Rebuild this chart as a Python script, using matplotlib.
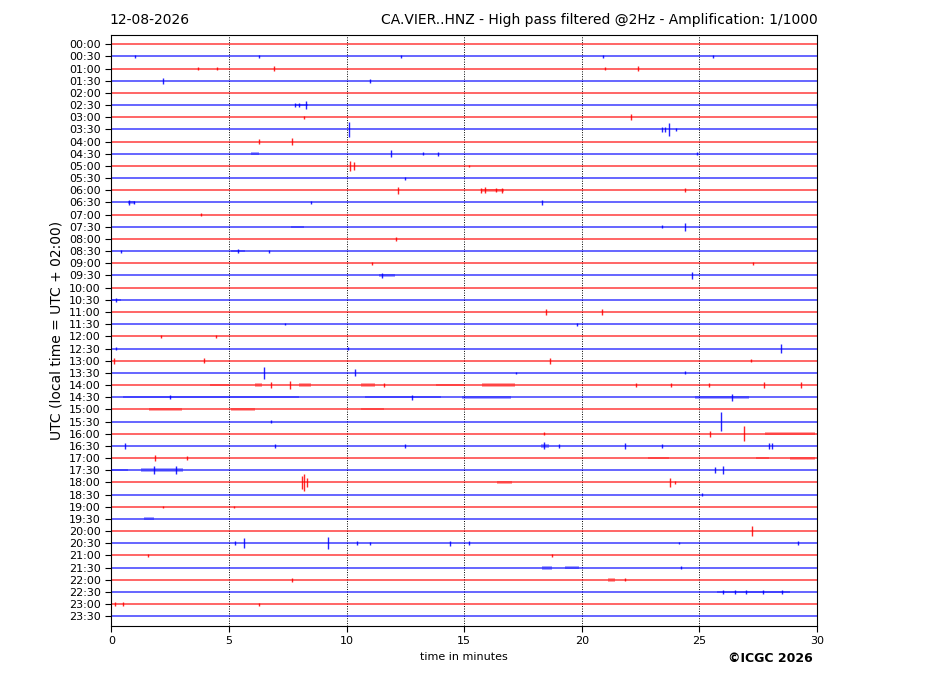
import matplotlib
matplotlib.use("Agg")
import matplotlib.pyplot as plt

# ---------------- data ----------------
ROW_LABELS = ["00:00", "00:30", "01:00", "01:30", "02:00", "02:30", "03:00", "03:30",
              "04:00", "04:30", "05:00", "05:30", "06:00", "06:30", "07:00", "07:30",
              "08:00", "08:30", "09:00", "09:30", "10:00", "10:30", "11:00", "11:30",
              "12:00", "12:30", "13:00", "13:30", "14:00", "14:30", "15:00", "15:30",
              "16:00", "16:30", "17:00", "17:30", "18:00", "18:30", "19:00", "19:30",
              "20:00", "20:30", "21:00", "21:30", "22:00", "22:30", "23:00", "23:30"]
ROW_COLORS = ["red", "blue"] * 24
X_TICKS = [0, 5, 10, 15, 20, 25, 30]

# isolated spikes: (row label, minute, half amplitude in trace-spacing units)
SPIKES = [
    ("00:30", 1.0, 0.15), ("00:30", 6.3, 0.12), ("00:30", 12.3, 0.1), ("00:30", 20.9, 0.12), ("00:30", 25.6, 0.1),
    ("01:00", 3.7, 0.12), ("01:00", 4.5, 0.12), ("01:00", 6.9, 0.2), ("01:00", 21.0, 0.15), ("01:00", 22.4, 0.18),
    ("01:30", 2.2, 0.25), ("01:30", 11.0, 0.15),
    ("02:30", 7.8, 0.18), ("02:30", 8.0, 0.18), ("02:30", 8.28, 0.35), ("02:30", 30.0, 0.25),
    ("03:00", 8.2, 0.12), ("03:00", 22.1, 0.25),
    ("03:30", 10.1, 0.65), ("03:30", 23.4, 0.2), ("03:30", 23.55, 0.2), ("03:30", 23.7, 0.5), ("03:30", 24.0, 0.15),
    ("04:00", 6.3, 0.18), ("04:00", 7.7, 0.28),
    ("04:30", 11.9, 0.28), ("04:30", 13.25, 0.12), ("04:30", 13.9, 0.15), ("04:30", 24.9, 0.12),
    ("05:00", 10.15, 0.4), ("05:00", 10.3, 0.35), ("05:00", 15.2, 0.1),
    ("05:30", 12.5, 0.12),
    ("06:00", 12.2, 0.28), ("06:00", 15.7, 0.22), ("06:00", 15.9, 0.25), ("06:00", 16.35, 0.18), ("06:00", 16.6, 0.2), ("06:00", 24.4, 0.15),
    ("06:30", 0.75, 0.2), ("06:30", 0.95, 0.15), ("06:30", 8.5, 0.12), ("06:30", 18.3, 0.18),
    ("07:00", 3.8, 0.12),
    ("07:30", 23.4, 0.12), ("07:30", 24.4, 0.35),
    ("08:00", 12.1, 0.15),
    ("08:30", 0.4, 0.12), ("08:30", 5.4, 0.18), ("08:30", 6.7, 0.12),
    ("09:00", 11.1, 0.1), ("09:00", 27.3, 0.12),
    ("09:30", 11.5, 0.18), ("09:30", 24.7, 0.28),
    ("10:30", 0.2, 0.15),
    ("11:00", 18.5, 0.22), ("11:00", 20.85, 0.22),
    ("11:30", 7.4, 0.1), ("11:30", 19.8, 0.12),
    ("12:00", 2.1, 0.1), ("12:00", 4.45, 0.1),
    ("12:30", 0.2, 0.12), ("12:30", 10.05, 0.12), ("12:30", 28.45, 0.4),
    ("13:00", 0.1, 0.25), ("13:00", 3.95, 0.18), ("13:00", 18.65, 0.25), ("13:00", 27.2, 0.12),
    ("13:30", 6.5, 0.5), ("13:30", 10.35, 0.28), ("13:30", 17.2, 0.1), ("13:30", 24.4, 0.12),
    ("14:00", 6.8, 0.25), ("14:00", 7.6, 0.35), ("14:00", 11.6, 0.18), ("14:00", 22.3, 0.18),
    ("14:00", 23.8, 0.15), ("14:00", 25.4, 0.15), ("14:00", 27.75, 0.25), ("14:00", 29.3, 0.25),
    ("14:30", 2.5, 0.18), ("14:30", 12.8, 0.22), ("14:30", 26.4, 0.28),
    ("15:30", 6.8, 0.1), ("15:30", 25.9, 0.8),
    ("16:00", 18.4, 0.12), ("16:00", 25.45, 0.25), ("16:00", 26.9, 0.6),
    ("16:30", 0.6, 0.25), ("16:30", 6.95, 0.18), ("16:30", 12.5, 0.18), ("16:30", 18.4, 0.28),
    ("16:30", 19.05, 0.18), ("16:30", 21.85, 0.25), ("16:30", 23.4, 0.18), ("16:30", 27.95, 0.25), ("16:30", 28.1, 0.25),
    ("17:00", 1.85, 0.28), ("17:00", 3.2, 0.15),
    ("17:30", 1.8, 0.35), ("17:30", 2.75, 0.35), ("17:30", 25.65, 0.25), ("17:30", 26.0, 0.35),
    ("18:00", 8.1, 0.55), ("18:00", 8.2, 0.7), ("18:00", 8.3, 0.4), ("18:00", 23.75, 0.35), ("18:00", 23.95, 0.15),
    ("18:30", 25.1, 0.15),
    ("19:00", 2.2, 0.1), ("19:00", 5.2, 0.1),
    ("20:00", 27.25, 0.4),
    ("20:30", 5.25, 0.18), ("20:30", 5.65, 0.4), ("20:30", 9.2, 0.5), ("20:30", 10.45, 0.18), ("20:30", 11.0, 0.12),
    ("20:30", 14.4, 0.22), ("20:30", 15.2, 0.15), ("20:30", 24.15, 0.1), ("20:30", 29.2, 0.18),
    ("21:00", 1.55, 0.15), ("21:00", 18.75, 0.1),
    ("21:30", 24.2, 0.12),
    ("22:00", 7.7, 0.15), ("22:00", 21.85, 0.12),
    ("22:30", 26.0, 0.15), ("22:30", 26.5, 0.15), ("22:30", 27.0, 0.18), ("22:30", 27.7, 0.15), ("22:30", 28.5, 0.18),
    ("23:00", 0.15, 0.15), ("23:00", 0.5, 0.18), ("23:00", 6.3, 0.12),
]

# noisy bursts: (row label, start minute, end minute, half amplitude)
BURSTS = [
    ("02:30", 7.8, 8.35, 0.1),
    ("04:30", 5.95, 6.3, 0.12),
    ("06:00", 15.7, 16.7, 0.1),
    ("06:30", 0.7, 1.0, 0.1),
    ("07:30", 7.65, 8.2, 0.07),
    ("08:30", 5.1, 5.7, 0.1),
    ("09:30", 11.4, 12.05, 0.1),
    ("10:30", 0.0, 0.4, 0.1),
    ("14:00", 4.2, 5.0, 0.11), ("14:00", 6.1, 6.4, 0.16), ("14:00", 8.0, 8.5, 0.16),
    ("14:00", 10.6, 11.2, 0.16), ("14:00", 13.8, 15.0, 0.11), ("14:00", 15.75, 17.15, 0.18),
    ("14:30", 0.5, 8.0, 0.07), ("14:30", 10.8, 14.0, 0.1), ("14:30", 14.9, 17.0, 0.12), ("14:30", 24.8, 27.1, 0.12),
    ("15:00", 1.6, 3.0, 0.12), ("15:00", 5.1, 6.1, 0.12), ("15:00", 10.6, 11.6, 0.08),
    ("16:00", 27.8, 29.9, 0.11),
    ("16:30", 18.25, 18.6, 0.16),
    ("17:00", 22.8, 23.7, 0.1), ("17:00", 27.4, 27.95, 0.1), ("17:00", 28.85, 29.9, 0.12),
    ("17:30", 0.0, 0.7, 0.1), ("17:30", 1.25, 3.05, 0.16),
    ("18:00", 16.4, 17.05, 0.12),
    ("19:30", 1.4, 1.8, 0.12),
    ("21:30", 18.3, 18.75, 0.16), ("21:30", 19.3, 19.9, 0.12),
    ("22:00", 21.1, 21.4, 0.18),
    ("22:30", 25.75, 28.85, 0.08),
]

# ---------------- figure ----------------
W, H = 927, 696
fig = plt.figure(figsize=(W / 100, H / 100), dpi=100)
ax = fig.add_axes([111.3 / W, 1 - 626 / H, (817 - 111.3) / W, (626 - 35) / H])

row_index = {lab: i for i, lab in enumerate(ROW_LABELS)}

for i, (lab, col) in enumerate(zip(ROW_LABELS, ROW_COLORS)):
    ax.plot([X_TICKS[0], X_TICKS[-1]], [i, i], color=col, lw=1.3, alpha=0.65, zorder=2)

for lab, t0, t1, a in BURSTS:
    i = row_index[lab]
    col = ROW_COLORS[i]
    ax.fill_between([t0, t1], [i - a, i - a], [i + a, i + a], color=col, alpha=0.35, lw=0, zorder=3)

for lab, t, a in SPIKES:
    i = row_index[lab]
    col = ROW_COLORS[i]
    ax.vlines(t, i - a, i + a, color=col, lw=1.0, alpha=0.85, zorder=4)

for x in X_TICKS[1:-1]:
    ax.axvline(x, color="black", ls=(0, (1, 1.5)), lw=0.7, zorder=1)

ax.set_xlim(X_TICKS[0], X_TICKS[-1])
ax.set_ylim(47.8, -0.76)
ax.set_xticks(X_TICKS)
ax.set_xticklabels([str(x) for x in X_TICKS], fontsize=8)
ax.set_yticks(range(len(ROW_LABELS)))
ax.set_yticklabels(ROW_LABELS, fontsize=8)
ax.tick_params(direction="out", length=4, width=0.8)
ax.set_xlabel("time in minutes", fontsize=8)
ax.set_ylabel("UTC (local time = UTC + 02:00)", fontsize=10)

fig.text(109 / W, 1 - 20 / H, "12-08-2026", fontsize=10, ha="left", va="center")
fig.text(818 / W, 1 - 20 / H, "CA.VIER..HNZ - High pass filtered @2Hz - Amplification: 1/1000",
         fontsize=10, ha="right", va="center")
fig.text(770 / W, 1 - 658 / H, "\u00a9ICGC 2026", fontsize=9, fontweight="bold", ha="center", va="center")

fig.savefig("out.png", dpi=100)
